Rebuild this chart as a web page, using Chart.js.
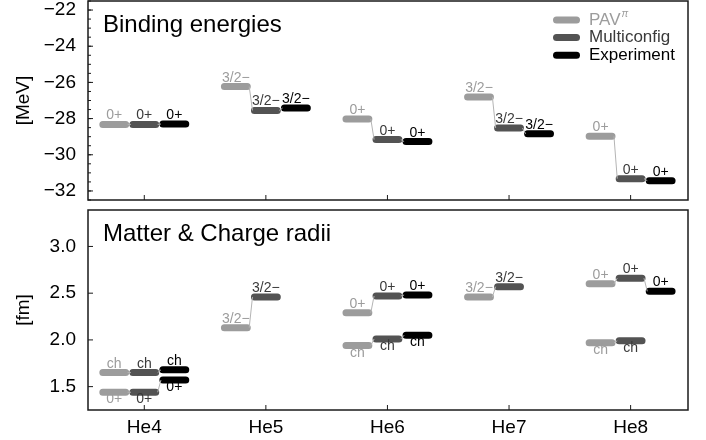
<!DOCTYPE html>
<html lang="en">
<head>
<meta charset="UTF-8" />
<title>Helium isotopes: binding energies and radii</title>
<script src="https://cdn.jsdelivr.net/npm/chart.js"></script>
<style>
  body { margin: 0; background: #fff; }
  #wrap { position: relative; width: 706px; height: 440px; }
  canvas { position: absolute; left: 0; }
  #energyChart { top: 0; }
  #radiusChart { top: 205px; }
</style>
</head>
<body>
<div id="wrap">
  <canvas id="energyChart" width="706" height="205"></canvas>
  <canvas id="radiusChart" width="706" height="235"></canvas>
</div>
<script>
const nuclei = ['He4', 'He5', 'He6', 'He7', 'He8'];
const seriesNames = ['PAV', 'Multiconfig', 'Experiment'];

// binding energies [MeV]
const energyPAV   = [-28.32, -26.23, -28.02, -26.81, -28.98];
const energyMulti = [-28.32, -27.55, -29.16, -28.52, -31.32];
const energyExp   = [-28.30, -27.42, -29.27, -28.84, -31.43];
const energyText  = ['0+', '3/2\u2212', '0+', '3/2\u2212', '0+'];
const energyPos   = ['above', 'above', 'above', 'above', 'above'];

// matter radii [fm]
const matterPAV   = [1.44, 2.13, 2.29, 2.46, 2.60];
const matterMulti = [1.44, 2.46, 2.47, 2.57, 2.66];
const matterExp   = [1.57, null, 2.48, null, 2.52];
const matterText  = ['0+', '3/2\u2212', '0+', '3/2\u2212', '0+'];
const matterPos   = ['below', 'above', 'above', 'above', 'above'];

// charge radii [fm]
const chargePAV   = [1.65, null, 1.94, null, 1.97];
const chargeMulti = [1.65, null, 2.01, null, 1.99];
const chargeExp   = [1.68, null, 2.05, null, null];
const chargeText  = ['ch', 'ch', 'ch', 'ch', 'ch'];
const chargePos   = ['above', 'above', 'below', 'below', 'below'];

const energyTicks = [-32, -30, -28, -26, -24, -22];
const radiusTicks = [1.5, 2.0, 2.5, 3.0];

const FONT = '"Liberation Sans", Arial, Helvetica, sans-serif';
const barColors = ['#9c9c9c', '#535353', '#000000'];
const textColors = ['#9c9c9c', '#3a3a3a', '#000000'];
const BAR_OFFSET = [-0.247, 0, 0.247];
const BAR_HALF = 0.094;  // round caps add the rest of the length
const LINK_HALF = 0.11;

function levelPoints(rows, s) {
  const pts = [];
  rows.forEach(vals => vals.forEach((v, i) => {
    if (v === null) return;
    const cx = i + BAR_OFFSET[s];
    pts.push({ x: cx - BAR_HALF, y: v }, { x: cx + BAR_HALF, y: v }, { x: cx, y: null });
  }));
  return pts;
}

function linkPoints(groups) {
  const pts = [];
  groups.forEach(rows => {
    for (let i = 0; i < nuclei.length; i++) {
      for (let s = 0; s < rows.length - 1; s++) {
        const a = rows[s][i], b = rows[s + 1][i];
        if (a === null || b === null) continue;
        pts.push({ x: i + BAR_OFFSET[s] + LINK_HALF, y: a },
                 { x: i + BAR_OFFSET[s + 1] - LINK_HALF, y: b },
                 { x: i, y: null });
      }
    }
  });
  return pts;
}

function makeDatasets(groups) {
  const sets = [{
    data: linkPoints(groups),
    borderColor: '#b4b4b4',
    borderWidth: 1,
    pointRadius: 0,
    spanGaps: false
  }];
  seriesNames.forEach((name, s) => {
    sets.push({
      label: name,
      data: levelPoints(groups.map(g => g[s]), s),
      borderColor: barColors[s],
      borderWidth: 7,
      borderCapStyle: 'round',
      pointRadius: 0,
      spanGaps: false
    });
  });
  return sets;
}

const levelLabels = {
  id: 'levelLabels',
  afterDatasetsDraw(chart, args, opts) {
    const { ctx, scales: { x, y } } = chart;
    ctx.save();
    ctx.font = '14px ' + FONT;
    ctx.textAlign = 'center';
    ctx.textBaseline = 'alphabetic';
    opts.groups.forEach(g => {
      g.rows.forEach((vals, s) => vals.forEach((v, i) => {
        if (v === null) return;
        const px = x.getPixelForValue(i + BAR_OFFSET[s]);
        const py = y.getPixelForValue(v);
        ctx.fillStyle = textColors[s];
        ctx.fillText(g.text[i], px, g.pos[i] === 'below' ? py + 11 : py - 5);
      }));
    });
    ctx.restore();
  }
};

const panelFrame = {
  id: 'panelFrame',
  afterDatasetsDraw(chart, args, opts) {
    const { ctx, chartArea: a, scales: { x, y } } = chart;
    ctx.save();
    ctx.strokeStyle = '#1a1a1a';
    ctx.lineWidth = 1;
    ctx.beginPath();
    opts.yTicks.forEach(v => {
      const py = y.getPixelForValue(v);
      ctx.moveTo(a.left, py); ctx.lineTo(a.left + 5, py);
    });
    if (opts.minorStep) {
      for (let v = y.min; v <= y.max; v += opts.minorStep) {
        const r = Math.round(v / opts.minorStep) * opts.minorStep;
        const py = y.getPixelForValue(r);
        ctx.moveTo(a.left, py); ctx.lineTo(a.left + 3, py);
      }
    }
    nuclei.forEach((_, i) => {
      const px = x.getPixelForValue(i);
      ctx.moveTo(px, a.bottom); ctx.lineTo(px, a.bottom - 5);
    });
    ctx.stroke();
    ctx.lineWidth = 1.5;
    ctx.strokeRect(a.left, a.top, a.right - a.left, a.bottom - a.top);
    ctx.font = '24px ' + FONT;
    ctx.fillStyle = '#000';
    ctx.textAlign = 'left';
    ctx.fillText(opts.title, a.left + 15, a.top + 31);
    ctx.restore();
  }
};

const levelLegend = {
  id: 'levelLegend',
  afterDatasetsDraw(chart, args, opts) {
    if (!opts.show) return;
    const { ctx } = chart;
    ctx.save();
    ctx.lineCap = 'round';
    ctx.lineWidth = 7;
    ctx.textBaseline = 'middle';
    ctx.textAlign = 'left';
    seriesNames.forEach((name, s) => {
      const yy = 20 + s * 17.6;
      ctx.strokeStyle = barColors[s];
      ctx.beginPath(); ctx.moveTo(556.5, yy); ctx.lineTo(576.5, yy); ctx.stroke();
      ctx.fillStyle = textColors[s];
      ctx.font = '17px ' + FONT;
      ctx.fillText(name, 589, yy);
      if (s === 0) {
        const w = ctx.measureText(name).width;
        ctx.font = 'italic 10px ' + FONT;
        ctx.fillText('\u03c0', 589 + w + 1, yy - 6);
      }
    });
    ctx.restore();
  }
};

function makeChart(id, cfg) {
  const groups = cfg.groups;
  return new Chart(document.getElementById(id), {
    type: 'line',
    data: { datasets: makeDatasets(groups.map(g => g.rows)) },
    plugins: [panelFrame, levelLabels, levelLegend],
    options: {
      responsive: false,
      animation: false,
      events: [],
      devicePixelRatio: 1,
      layout: { padding: cfg.padding },
      scales: {
        x: {
          type: 'linear',
          min: -0.463,
          max: 4.472,
          display: cfg.showX,
          grid: { display: false, drawTicks: false },
          border: { display: false },
          afterBuildTicks: ax => { ax.ticks = nuclei.map((_, i) => ({ value: i })); },
          afterFit: ax => { ax.height = cfg.showX ? 30 : 0; ax.paddingLeft = 0; ax.paddingRight = 0; },
          ticks: {
            autoSkip: false, maxRotation: 0, padding: 6, color: '#000',
            font: { size: 19 },
            callback: v => nuclei[v]
          }
        },
        y: {
          min: cfg.yMin,
          max: cfg.yMax,
          grid: { display: false, drawTicks: false },
          border: { display: false },
          afterBuildTicks: ax => { ax.ticks = cfg.yTicks.map(v => ({ value: v })); },
          afterFit: ax => { ax.width = 88; ax.paddingTop = 0; ax.paddingBottom = 0; },
          title: {
            display: true, text: cfg.yTitle, color: '#000',
            font: { size: 19 }, padding: { top: 12, bottom: 0 }
          },
          ticks: {
            autoSkip: false, padding: 12, color: '#000',
            font: { size: 19 },
            callback: cfg.yFormat
          }
        }
      },
      plugins: {
        legend: { display: false },
        tooltip: { enabled: false },
        panelFrame: { title: cfg.title, yTicks: cfg.yTicks, minorStep: cfg.minorStep },
        levelLabels: { groups: groups },
        levelLegend: { show: cfg.legend }
      }
    }
  });
}

Chart.defaults.font.family = FONT;

makeChart('energyChart', {
  title: 'Binding energies',
  yTitle: '[MeV]',
  yMin: -32.5, yMax: -21.5,
  yTicks: energyTicks,
  yFormat: v => String(v).replace('-', '\u2212'),
  minorStep: 0.5,
  showX: false,
  legend: true,
  padding: { left: 0, right: 18, top: 1, bottom: 5 },
  groups: [
    { rows: [energyPAV, energyMulti, energyExp], text: energyText, pos: energyPos }
  ]
});

makeChart('radiusChart', {
  title: 'Matter & Charge radii',
  yTitle: '[fm]',
  yMin: 1.25, yMax: 3.39,
  yTicks: radiusTicks,
  yFormat: v => v.toFixed(1),
  minorStep: 0,
  showX: true,
  legend: false,
  padding: { left: 0, right: 18, top: 5, bottom: 0 },
  groups: [
    { rows: [matterPAV, matterMulti, matterExp], text: matterText, pos: matterPos },
    { rows: [chargePAV, chargeMulti, chargeExp], text: chargeText, pos: chargePos }
  ]
});
</script>
</body>
</html>
